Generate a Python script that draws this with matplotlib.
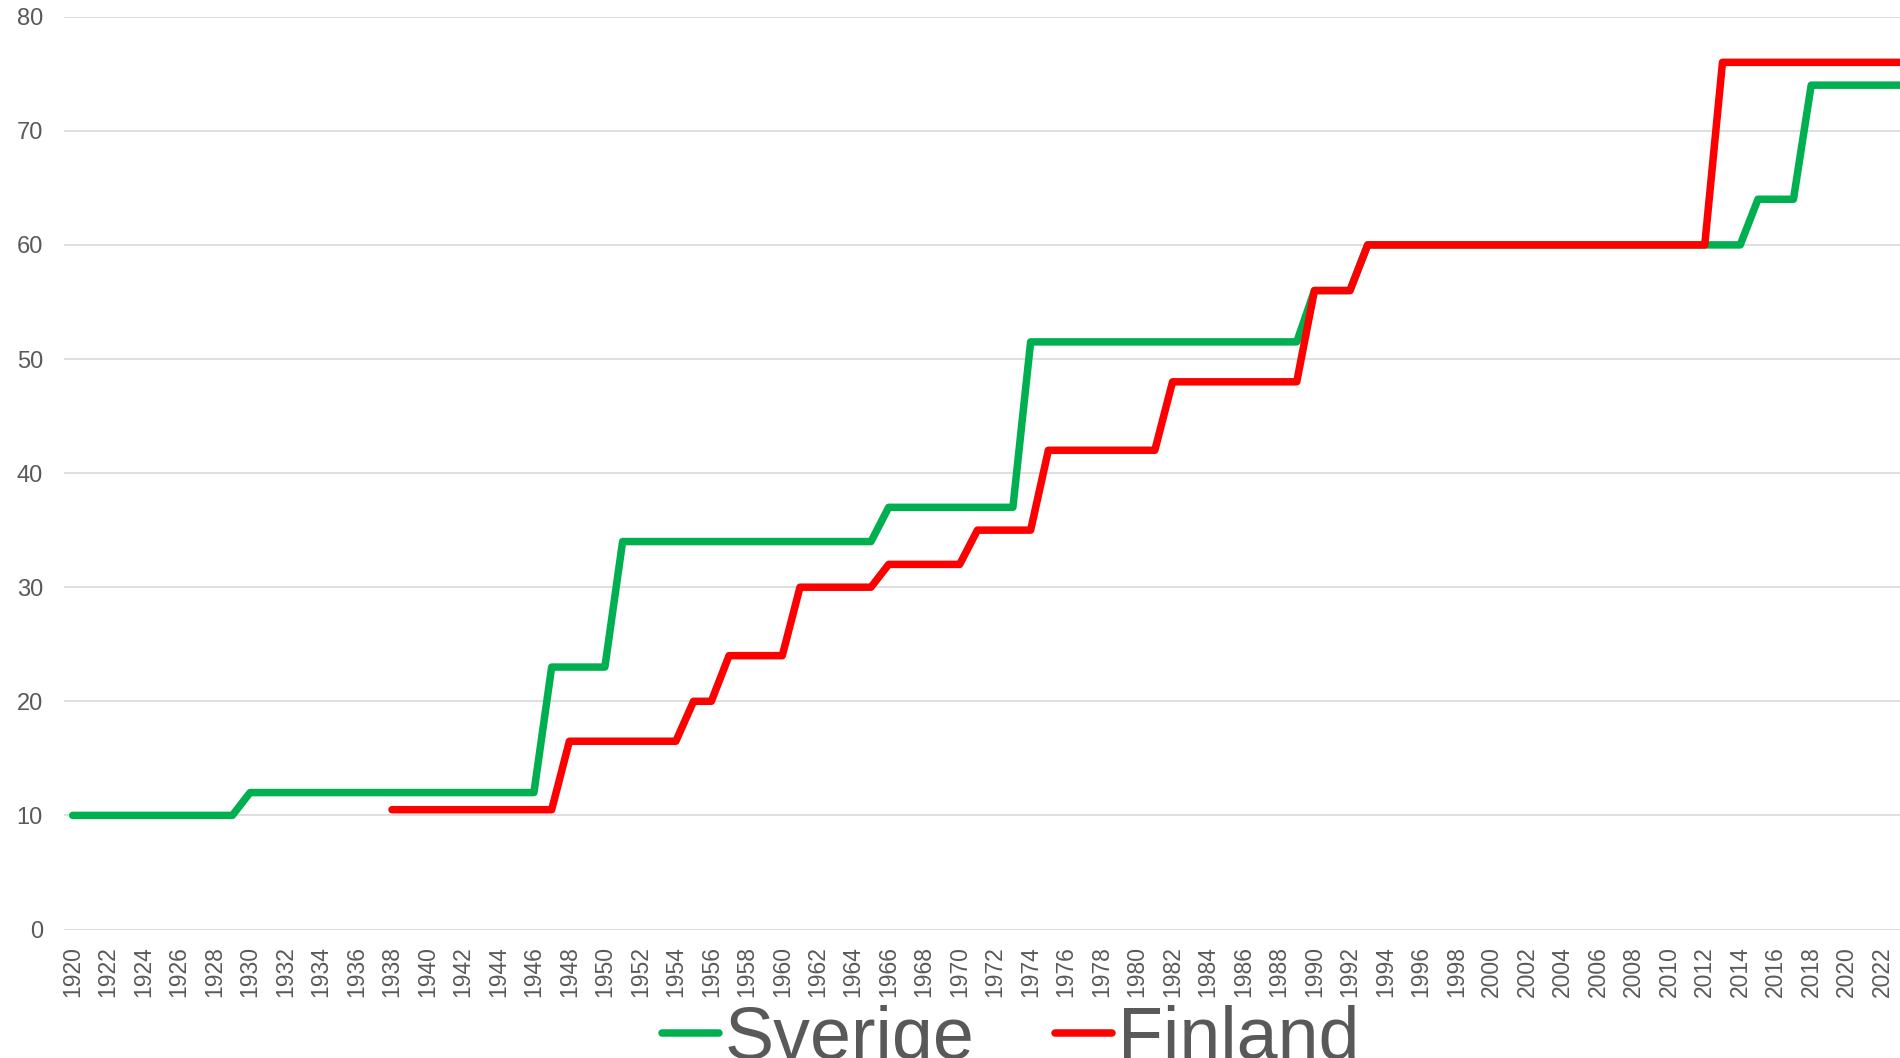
import matplotlib
matplotlib.use("Agg")
import matplotlib.pyplot as plt
import numpy as np

plt.rcParams['font.family'] = ['Liberation Sans', 'DejaVu Sans']

years = list(range(1920, 2024))

sverige = [
    10, 10, 10, 10, 10, 10, 10, 10, 10, 10,            # 1920-1929
    12, 12, 12, 12, 12, 12, 12, 12, 12, 12,            # 1930-1939
    12, 12, 12, 12, 12, 12, 12, 23, 23, 23,            # 1940-1949
    23, 34, 34, 34, 34, 34, 34, 34, 34, 34,            # 1950-1959
    34, 34, 34, 34, 34, 34, 37, 37, 37, 37,            # 1960-1969
    37, 37, 37, 37, 51.5, 51.5, 51.5, 51.5, 51.5, 51.5,  # 1970-1979
    51.5, 51.5, 51.5, 51.5, 51.5, 51.5, 51.5, 51.5, 51.5, 51.5,  # 1980-1989
    56, 56, 56, 60, 60, 60, 60, 60, 60, 60,            # 1990-1999
    60, 60, 60, 60, 60, 60, 60, 60, 60, 60,            # 2000-2009
    60, 60, 60, 60, 60, 64, 64, 64, 74, 74,            # 2010-2019
    74, 74, 74, 74,                                    # 2020-2023
]

finland = [
    None, None, None, None, None, None, None, None, None, None,  # 1920-1929
    None, None, None, None, None, None, None, None, 10.5, 10.5,  # 1930-1939
    10.5, 10.5, 10.5, 10.5, 10.5, 10.5, 10.5, 10.5, 16.5, 16.5,  # 1940-1949
    16.5, 16.5, 16.5, 16.5, 16.5, 20, 20, 24, 24, 24,            # 1950-1959
    24, 30, 30, 30, 30, 30, 32, 32, 32, 32,                      # 1960-1969
    32, 35, 35, 35, 35, 42, 42, 42, 42, 42,                      # 1970-1979
    42, 42, 48, 48, 48, 48, 48, 48, 48, 48,                      # 1980-1989
    56, 56, 56, 60, 60, 60, 60, 60, 60, 60,                      # 1990-1999
    60, 60, 60, 60, 60, 60, 60, 60, 60, 60,                      # 2000-2009
    60, 60, 60, 76, 76, 76, 76, 76, 76, 76,                      # 2010-2019
    76, 76, 76, 76,                                              # 2020-2023
]

series_names = ["Sverige", "Finland"]
series_colors = ["#00B050", "#FF0000"]
y_ticks = [0, 10, 20, 30, 40, 50, 60, 70, 80]
x_tick_labels = [str(y) for y in years[::2]]

W, H = 1900, 1058
fig = plt.figure(figsize=(W / 100, H / 100), dpi=100)
fig.patch.set_facecolor("white")

left_px, right_px = 63.8, 63.8 + 104 * 17.74
bottom_px, top_px = 929.5, 16.7
ax = fig.add_axes([left_px / W, (H - bottom_px) / H,
                   (right_px - left_px) / W, (bottom_px - top_px) / H])

fin = np.array([np.nan if v is None else v for v in finland], dtype=float)
sve = np.array(sverige, dtype=float)

lw = 5.4
for vals, name, col in zip([sve, fin], series_names, series_colors):
    ax.plot(years, vals, color=col, lw=lw, label=name,
            solid_joinstyle="round", solid_capstyle="round", zorder=3)

ax.set_xlim(1919.5, 2023.5)
ax.set_ylim(0, 80)
ax.set_yticks(y_ticks)
ax.set_xticks(years[::2])
ax.set_xticklabels(x_tick_labels, rotation=90)

ax.grid(axis="y", color="#D9D9D9", lw=1.2, zorder=0)
ax.grid(axis="x", visible=False)
for s in ax.spines.values():
    s.set_visible(False)
ax.tick_params(axis="both", length=0, colors="#595959")
ax.tick_params(axis="x", labelsize=16.5, pad=12)
ax.tick_params(axis="y", labelsize=17, pad=15)
ax.set_axisbelow(True)

leg = fig.legend(loc="center", bbox_to_anchor=(0.532, 0.0175), ncol=2,
                 frameon=False, fontsize=53, handlelength=0.77,
                 handletextpad=0.08, columnspacing=1.1, borderpad=0,
                 borderaxespad=0)
for t in leg.get_texts():
    t.set_color("#595959")

fig.savefig("out.png", dpi=100, facecolor="white")
